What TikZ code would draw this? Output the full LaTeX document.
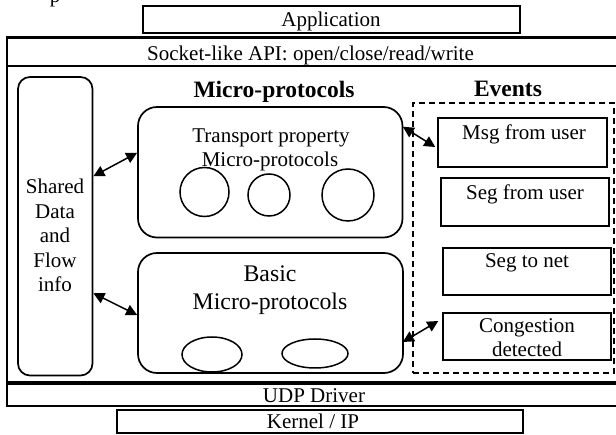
\documentclass[tikz,border=0pt]{standalone}
\usepackage{fontspec}
\setmainfont{Liberation Serif}
\usetikzlibrary{arrows.meta}
\tikzset{
  sqbox/.style={draw, line width=1.5pt, inner sep=0pt, rectangle},
  rbox/.style={draw, line width=1.7pt, inner sep=0pt, rectangle, rounded corners=#1},
  blob/.style={draw, line width=1.5pt, inner sep=0pt},
  txt/.style={inner sep=0pt, anchor=base, font=\fontsize{21}{24.5}\selectfont},
  bigtxt/.style={inner sep=0pt, anchor=base, font=\fontsize{23.8}{28}\selectfont},
  headtxt/.style={inner sep=0pt, anchor=base, font=\fontsize{23.5}{27}\selectfont\bfseries},
  link/.style={line width=1.5pt, {Triangle[length=11pt,width=11pt]}-{Triangle[length=11pt,width=11pt]}}
}
\begin{document}
\begin{tikzpicture}[x=1pt,y=-1pt]
\useasboundingbox (0,0) rectangle (616,435);

% fragment of text cut at the top
\node[txt] (frag) at (55,3) {p};

% Application
\node[sqbox, minimum width=377pt, minimum height=27pt] (app) at (331.5,19.5) {};
\node[txt] (apptxt) at (331,27) {Application};

% outer frame
\node[draw, line width=1.6pt, inner sep=0pt, minimum width=615pt, minimum height=368pt] (frame) at (314.5,222) {};
\draw[line width=2.6pt] (frame.north west) -- (frame.north east);
\coordinate (sockL) at (7,66);
\coordinate (sockR) at (622,66);
\draw[line width=1.5pt] (sockL) -- (sockR);
\node[txt] (socktxt) at (310.5,61) {Socket-like API: open/close/read/write};

% UDP
\coordinate (udpL) at (7,383);
\coordinate (udpR) at (622,383);
\draw[line width=3.3pt] (udpL) -- (udpR);
\node[txt] (udptxt) at (314,403) {UDP Driver};

% Kernel
\node[sqbox, minimum width=406pt, minimum height=23pt] (kernel) at (320,421.5) {};
\node[txt] (kerneltxt) at (313,429) {Kernel / IP};

% Shared data
\node[rbox=12pt, minimum width=74.5pt, minimum height=298.5pt] (shared) at (55.25,226.25) {};
\node[txt] (sh1) at (55,194) {Shared};
\node[txt] (sh2) at (55,218.5) {Data};
\node[txt] (sh3) at (55,243) {and};
\node[txt] (sh4) at (55,267.5) {Flow};
\node[txt] (sh5) at (55,292) {info};

% titles
\node[headtxt] (mptitle) at (274,98) {Micro-protocols};
\node[headtxt] (evtitle) at (508,97) {Events};

% Transport
\node[rbox=19pt, minimum width=264.5pt, minimum height=130.5pt] (transport) at (270.25,172.25) {};
\node[txt] (tr1) at (271,143) {Transport property};
\node[txt] (tr2) at (270,167) {Micro-protocols};
\node[blob, circle, minimum size=49pt] (c1) at (204.5,192) {};
\node[blob, circle, minimum size=42pt] (c2) at (269,195) {};
\node[blob, circle, minimum size=52pt] (c3) at (348,195) {};

% Basic
\node[rbox=19pt, minimum width=265pt, minimum height=120pt] (basic) at (270.5,313) {};
\node[bigtxt] (ba1) at (270,282) {Basic};
\node[bigtxt] (ba2) at (270,310) {Micro-protocols};
\draw[line width=1.5pt] (212,354.5) ellipse [x radius=30pt, y radius=17.5pt];
\draw[line width=1.5pt] (315,353.5) ellipse [x radius=33pt, y radius=14.5pt];

% Events
\node[draw, line width=1.6pt, dash pattern=on 6pt off 4pt, inner sep=0pt, minimum width=201pt, minimum height=270pt] (events) at (513.5,238) {};
\node[sqbox, minimum width=169pt, minimum height=49pt] (msg) at (522.5,142.5) {};
\node[txt] (msgtxt) at (524,140) {Msg from user};
\node[sqbox, minimum width=168pt, minimum height=48pt] (segfrom) at (525,202) {};
\node[txt] (segfromtxt) at (525,200) {Seg from user};
\node[sqbox, minimum width=168pt, minimum height=47pt] (segto) at (527,271.5) {};
\node[txt] (segtotxt) at (527,268) {Seg to net};
\node[sqbox, minimum width=168pt, minimum height=47pt] (cong) at (527,336.5) {};
\node[txt] (cong1) at (527,333) {Congestion};
\node[txt] (cong2) at (527,357) {detected};

% connectors
\draw[link] ([yshift=50pt]shared.east) -- ([yshift=19.5pt]transport.west);
\draw[link] ([yshift=-67pt]shared.east) -- ([yshift=-2pt]basic.west);
\draw[link] ([yshift=45.5pt,xshift=-0.5pt]transport.east) -- ([yshift=-4.5pt,xshift=-2pt]msg.west);
\draw[link] ([yshift=-29pt,xshift=-1pt]basic.east) -- ([yshift=15.5pt,xshift=-4pt]cong.west);
\end{tikzpicture}
\end{document}
